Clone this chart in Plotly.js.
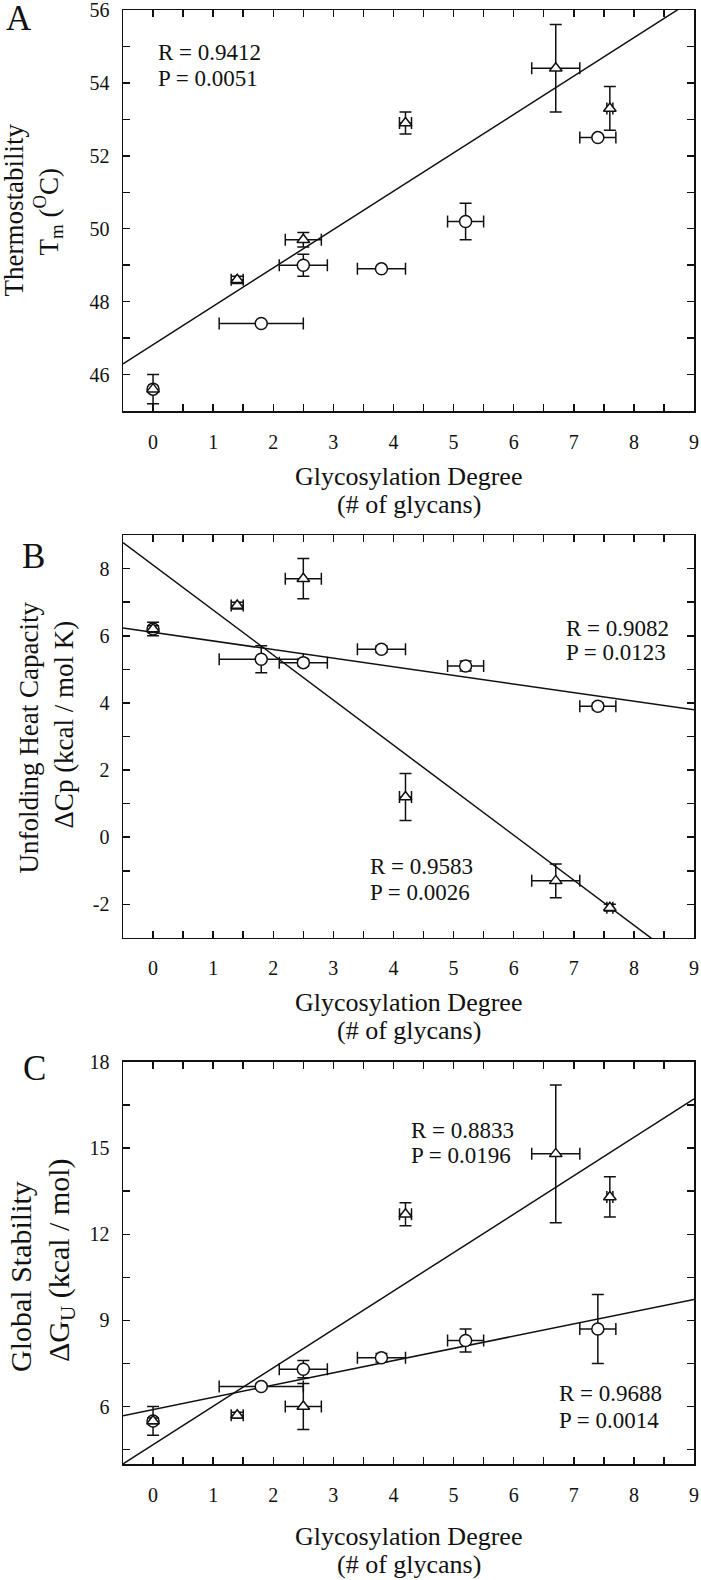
<!DOCTYPE html>
<html>
<head>
<meta charset="utf-8">
<script src="https://cdn.plot.ly/plotly-3.0.1.min.js"></script>
<style>
  html, body { margin: 0; padding: 0; background: #fff; }
  #graph { width: 701px; height: 1580px; }
</style>
</head>
<body>
<div id="graph"></div>
<script>
// *********************************************************************************************
// DATA

// glycosylation degree (# of glycans) for the two series, with their spread
const GLYCANS_CIRCLE = [0, 1.8, 2.5, 3.8, 5.2, 7.4];
const GLYCANS_CIRCLE_ERR = [0, 0.7, 0.4, 0.4, 0.3, 0.3];
const GLYCANS_TRIANGLE = [0, 1.4, 2.5, 4.2, 6.7, 7.6];
const GLYCANS_TRIANGLE_ERR = [0, 0.1, 0.3, 0.1, 0.4, 0.05];

// A: thermostability Tm (oC)
const TM_CIRCLE = [45.6, 47.4, 49.0, 48.9, 50.2, 52.5];
const TM_CIRCLE_ERR = [0.4, 0, 0.3, 0, 0.5, 0];
const TM_TRIANGLE = [45.6, 48.6, 49.7, 52.9, 54.4, 53.3];
const TM_TRIANGLE_ERR = [0, 0.1, 0.2, 0.3, 1.2, 0.6];

// B: unfolding heat capacity dCp (kcal / mol K)
const CP_CIRCLE = [6.2, 5.3, 5.2, 5.6, 5.1, 3.9];
const CP_CIRCLE_ERR = [0.2, 0.4, 0.1, 0.1, 0.15, 0.1];
const CP_TRIANGLE = [6.2, 6.9, 7.7, 1.2, -1.3, -2.1];
const CP_TRIANGLE_ERR = [0.1, 0.1, 0.6, 0.7, 0.5, 0.1];

// C: global stability dGU (kcal / mol)
const DG_CIRCLE = [5.5, 6.7, 7.3, 7.7, 8.3, 8.7];
const DG_CIRCLE_ERR = [0.5, 0.1, 0.3, 0.15, 0.4, 1.2];
const DG_TRIANGLE = [5.5, 5.7, 6.0, 12.7, 14.8, 13.3];
const DG_TRIANGLE_ERR = [0.1, 0.1, 0.8, 0.4, 2.4, 0.7];

// tick labels
const X_TICKS = [0, 1, 2, 3, 4, 5, 6, 7, 8, 9];
const CP_TICKS = [-2, 0, 2, 4, 6, 8];
const CP_TICK_TEXT = ['-2', '0', '2', '4', '6', '8'];

// texts
const PANEL_LABELS = ['A', 'B', 'C'];
const STATS_A = ['R = 0.9412', 'P = 0.0051'];
const STATS_B_CIRCLE = ['R = 0.9082', 'P = 0.0123'];
const STATS_B_TRIANGLE = ['R = 0.9583', 'P = 0.0026'];
const STATS_C_TRIANGLE = ['R = 0.8833', 'P = 0.0196'];
const STATS_C_CIRCLE = ['R = 0.9688', 'P = 0.0014'];
const X_TITLE = ['Glycosylation Degree', '(# of glycans)'];
const Y_TITLE_A = ['Thermostability', 'T<sub>m</sub> (<sup>O</sup>C)'];
const Y_TITLE_B = ['Unfolding Heat Capacity', '\u0394Cp (kcal / mol K)'];
const Y_TITLE_C = ['Global Stability', '\u0394G<sub>U</sub> (kcal / mol)'];


// *********************************************************************************************
// HELPERS

const FONT = '"Liberation Serif", "Times New Roman", serif';
const INK = '#111111';
const X_RANGE = [-0.5, 9];

const errs = (arr) => arr.map(v => (v > 0 ? v : NaN));

// least squares fit y = a + b x
const fit = (xs, ys) => {
    const n = xs.length;
    const mx = xs.reduce((s, v) => s + v, 0) / n;
    const my = ys.reduce((s, v) => s + v, 0) / n;
    let sxy = 0, sxx = 0;
    for (let i = 0; i < n; i++) {
        sxy += (xs[i] - mx) * (ys[i] - my);
        sxx += (xs[i] - mx) * (xs[i] - mx);
    }
    const b = sxy / sxx;
    return { a: my - b * mx, b: b };
};

const fitLine = (xs, ys, axis) => {
    const f = fit(xs, ys);
    return {
        type: 'scatter', mode: 'lines', hoverinfo: 'skip', showlegend: false,
        x: X_RANGE, y: X_RANGE.map(x => f.a + f.b * x),
        xaxis: 'x' + axis, yaxis: 'y' + axis,
        line: { color: INK, width: 1.5 }
    };
};

const points = (xs, xerr, ys, yerr, symbol, size, axis) => ({
    type: 'scatter', mode: 'markers', showlegend: false,
    x: xs, y: ys,
    xaxis: 'x' + axis, yaxis: 'y' + axis,
    marker: { symbol: symbol, size: size, color: '#ffffff', line: { color: INK, width: 1.5 } },
    error_x: { type: 'data', array: errs(xerr), visible: true, color: INK, thickness: 1.5, width: 6 },
    error_y: { type: 'data', array: errs(yerr), visible: true, color: INK, thickness: 1.5, width: 6 }
});

const panel = (axis, cY, cErr, tY, tErr) => [
    points(GLYCANS_CIRCLE, GLYCANS_CIRCLE_ERR, cY, cErr, 'circle', 12, axis),
    points(GLYCANS_TRIANGLE, GLYCANS_TRIANGLE_ERR, tY, tErr, 'triangle-up', 11, axis)
];


// *********************************************************************************************
// TRACES

const data = [
    fitLine(GLYCANS_TRIANGLE, TM_TRIANGLE, ''),
    ...panel('', TM_CIRCLE, TM_CIRCLE_ERR, TM_TRIANGLE, TM_TRIANGLE_ERR),

    fitLine(GLYCANS_CIRCLE, CP_CIRCLE, '2'),
    fitLine(GLYCANS_TRIANGLE, CP_TRIANGLE, '2'),
    ...panel('2', CP_CIRCLE, CP_CIRCLE_ERR, CP_TRIANGLE, CP_TRIANGLE_ERR),

    fitLine(GLYCANS_CIRCLE, DG_CIRCLE, '3'),
    fitLine(GLYCANS_TRIANGLE, DG_TRIANGLE, '3'),
    ...panel('3', DG_CIRCLE, DG_CIRCLE_ERR, DG_TRIANGLE, DG_TRIANGLE_ERR)
];


// *********************************************************************************************
// LAYOUT

const tickFont = { family: FONT, size: 20, color: INK };

const xAxis = (anchor) => ({
    anchor: anchor, domain: [0, 1], range: X_RANGE,
    tickmode: 'array', tickvals: X_TICKS,
    ticks: 'inside', ticklen: 7, tickwidth: 1.5, tickcolor: INK,
    minor: { dtick: 0.5, ticks: 'inside', ticklen: 7, tickwidth: 1.5, tickcolor: INK },
    showline: true, linecolor: INK, linewidth: 1.5, mirror: 'ticks',
    showgrid: false, zeroline: false, tickfont: tickFont, ticklabelstandoff: 12,
    ticklabeloverflow: 'allow'
});

const yAxis = (anchor, domain, range, dtick, minor) => ({
    anchor: anchor, domain: domain, range: range,
    dtick: dtick, tick0: 0,
    ticks: 'inside', ticklen: 7, tickwidth: 1.5, tickcolor: INK,
    minor: { dtick: minor, tick0: 0, ticks: 'inside', ticklen: 7, tickwidth: 1.5, tickcolor: INK },
    showline: true, linecolor: INK, linewidth: 1.5, mirror: 'ticks',
    showgrid: false, zeroline: false, tickfont: tickFont, ticklabelstandoff: 8,
    ticklabeloverflow: 'allow'
});

const note = (text, o) => Object.assign({
    text: text, showarrow: false,
    font: { family: FONT, size: 23, color: INK }
}, o);

const statNotes = (lines, axis, x, y1, y2) => [
    note(lines[0], { xref: 'x' + axis, yref: 'y' + axis, x: x, y: y1, xanchor: 'left', yanchor: 'middle' }),
    note(lines[1], { xref: 'x' + axis, yref: 'y' + axis, x: x, y: y2, xanchor: 'left', yanchor: 'middle' })
];

const xTitle = (axis, s1, s2) => [
    note(X_TITLE[0], { xref: 'x' + axis + ' domain', yref: 'y' + axis + ' domain', x: 0.5, y: 0,
        xanchor: 'center', yanchor: 'middle', yshift: s1, font: { family: FONT, size: 26, color: INK } }),
    note(X_TITLE[1], { xref: 'x' + axis + ' domain', yref: 'y' + axis + ' domain', x: 0.5, y: 0,
        xanchor: 'center', yanchor: 'middle', yshift: s2, font: { family: FONT, size: 26, color: INK } })
];

const yTitle = (lines, axis, size, x1, y1, x2, y2) => [
    note(lines[0], { xref: 'x' + axis + ' domain', yref: 'y' + axis + ' domain', x: 0, y: 0.5,
        textangle: -90, xanchor: 'center', yanchor: 'middle', xshift: x1, yshift: y1,
        font: { family: FONT, size: size, color: INK } }),
    note(lines[1], { xref: 'x' + axis + ' domain', yref: 'y' + axis + ' domain', x: 0, y: 0.5,
        textangle: -90, xanchor: 'center', yanchor: 'middle', xshift: x2, yshift: y2,
        font: { family: FONT, size: size, color: INK } })
];

const panelLabel = (i, axis, xs, ys) => note(PANEL_LABELS[i], {
    xref: 'x' + axis + ' domain', yref: 'y' + axis + ' domain', x: 0, y: 1,
    xanchor: 'center', yanchor: 'middle', xshift: xs, yshift: ys,
    font: { family: FONT, size: 35, color: INK }
});

let yB = yAxis('x2', [0.3618, 0.6389], [-3, 9], 2, 1);
yB.tickmode = 'array';
yB.tickvals = CP_TICKS;
yB.ticktext = CP_TICK_TEXT;

const layout = {
    width: 701, height: 1580,
    margin: { t: 10, r: 7, b: 116, l: 123 },
    paper_bgcolor: '#ffffff', plot_bgcolor: '#ffffff',
    showlegend: false,
    font: { family: FONT, color: INK },

    xaxis: xAxis('y'),
    yaxis: yAxis('x', [0.7242, 1], [45, 56], 2, 1),
    xaxis2: xAxis('y2'),
    yaxis2: yB,
    xaxis3: xAxis('y3'),
    yaxis3: yAxis('x3', [0, 0.2765], [4, 18], 3, 1.5),

    annotations: [
        panelLabel(0, '', -104.5, -8.5),
        panelLabel(1, '2', -89.5, -21),
        panelLabel(2, '3', -88.5, -7),

        ...statNotes(STATS_A, '', 0.05, 54.83, 54.11),
        ...statNotes(STATS_B_CIRCLE, '2', 6.84, 6.22, 5.49),
        ...statNotes(STATS_B_TRIANGLE, '2', 3.57, -0.86, -1.65),
        ...statNotes(STATS_C_TRIANGLE, '3', 4.26, 15.62, 14.74),
        ...statNotes(STATS_C_CIRCLE, '3', 6.72, 6.44, 5.53),

        ...xTitle('', -65, -93),
        ...xTitle('2', -65, -93),
        ...xTitle('3', -72, -100),

        ...yTitle(Y_TITLE_A, '', 27, -109, 0, -75, -1),
        ...yTitle(Y_TITLE_B, '2', 27, -94, -1, -59, 12),
        ...yTitle(Y_TITLE_C, '3', 30, -102, -14, -62, 3)
    ]
};


// *********************************************************************************************
// CONFIG

const config = {
    displaylogo: false,
    displayModeBar: false,
    staticPlot: true
};

Plotly.newPlot(document.getElementById('graph'), data, layout, config);
</script>
</body>
</html>
